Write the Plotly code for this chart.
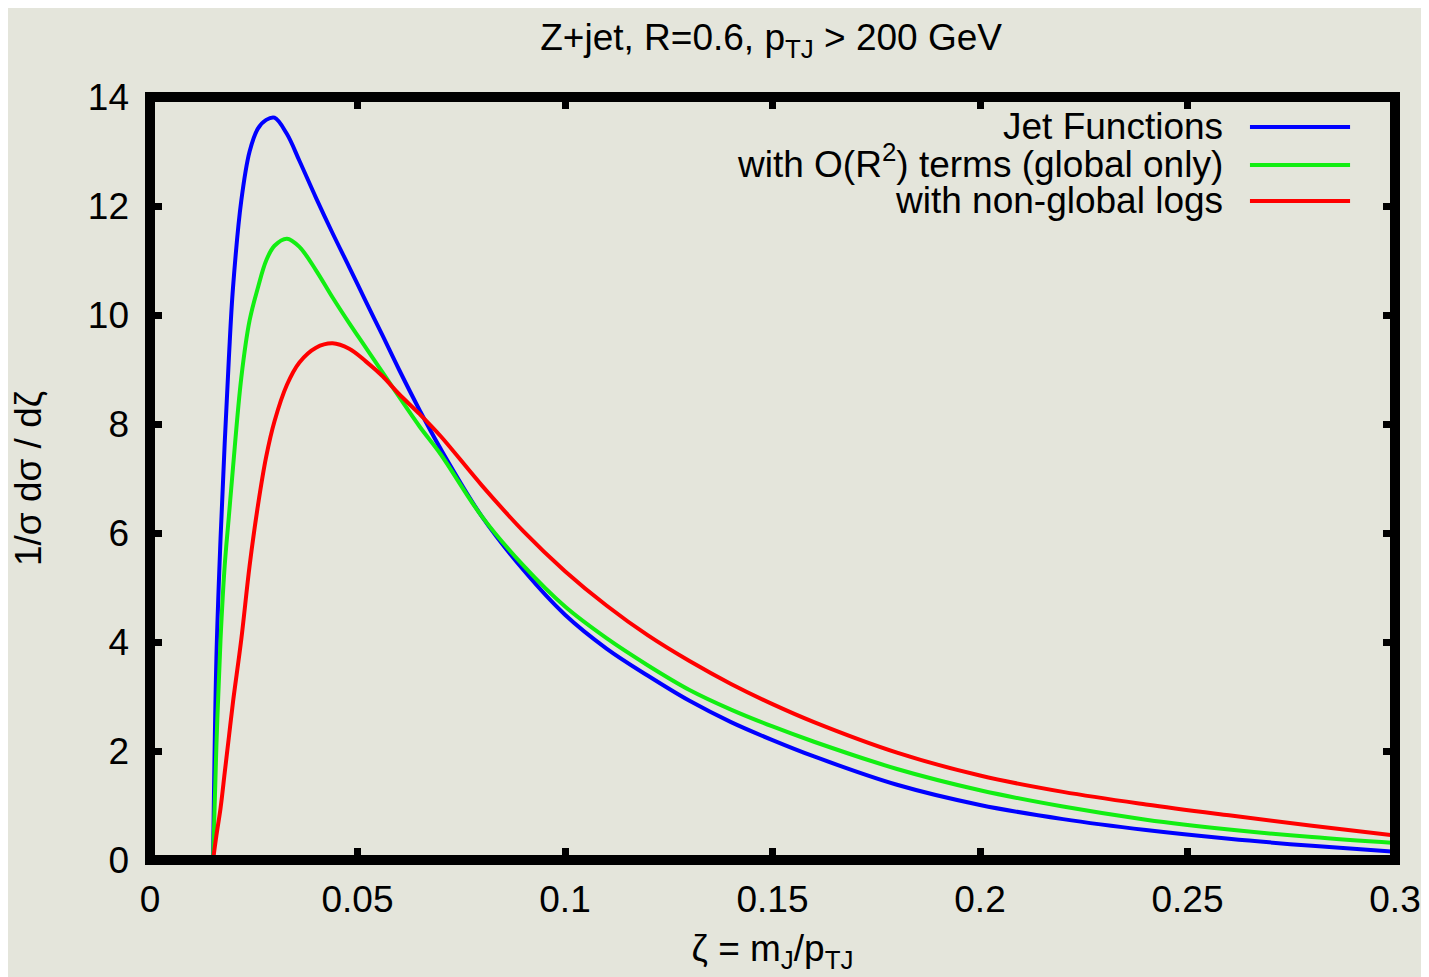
import plotly.graph_objects as go

# ---- data ----
zeta = [0.0152, 0.016, 0.017, 0.018, 0.019, 0.020, 0.022, 0.024, 0.026, 0.028,
        0.030, 0.033, 0.036, 0.040, 0.044, 0.048, 0.052, 0.056, 0.060, 0.065,
        0.070, 0.080, 0.090, 0.100, 0.110, 0.120, 0.130, 0.140, 0.150, 0.160,
        0.180, 0.200, 0.220, 0.240, 0.260, 0.280, 0.300]

jet_functions = [0, 3.7, 5.9, 7.65, 9.2, 10.5, 12.1, 13.0, 13.42, 13.58,
                 13.62, 13.32, 12.83, 12.15, 11.5, 10.88, 10.25, 9.63, 9.0, 8.25,
                 7.55, 6.3, 5.32, 4.5, 3.88, 3.38, 2.92, 2.53, 2.2, 1.9,
                 1.38, 1.01, 0.75, 0.55, 0.39, 0.26, 0.15]

global_only = [0, 2.1, 4.05, 5.4, 6.3, 7.2, 8.85, 9.9, 10.5, 11.0,
               11.27, 11.4, 11.25, 10.82, 10.32, 9.85, 9.4, 8.95, 8.5, 7.95,
               7.45, 6.3, 5.4, 4.65, 4.07, 3.57, 3.12, 2.76, 2.45, 2.17,
               1.67, 1.28, 0.98, 0.74, 0.56, 0.42, 0.31]

non_global = [0, 0.45, 0.95, 1.6, 2.25, 2.9, 4.05, 5.4, 6.5, 7.4,
              8.05, 8.72, 9.13, 9.4, 9.48, 9.38, 9.15, 8.88, 8.55, 8.18,
              7.78, 6.87, 6.03, 5.3, 4.67, 4.12, 3.65, 3.23, 2.86, 2.53,
              1.97, 1.55, 1.25, 1.02, 0.82, 0.63, 0.45]

series_names = ["Jet Functions", "with O(R<sup>2</sup>) terms (global only)",
                "with non-global logs"]
series_colors = ["#0000ff", "#12ee12", "#ff0000"]

x_ticks = [0, 0.05, 0.1, 0.15, 0.2, 0.25, 0.3]
x_tick_labels = ["0", "0.05", "0.1", "0.15", "0.2", "0.25", "0.3"]
y_ticks = [0, 2, 4, 6, 8, 10, 12, 14]

FONT = "Liberation Sans, Arial, Helvetica, sans-serif"
FS = 37
BG = "#e4e5db"

fig = go.Figure()
for ys, name, col in zip([jet_functions, global_only, non_global], series_names, series_colors):
    fig.add_trace(go.Scatter(x=zeta, y=ys, mode="lines", name=name, showlegend=False,
                             line=dict(color=col, width=4, shape="spline", smoothing=1.0)))

# legend drawn gnuplot-style: right-aligned text, sample line to the right
leg_y = [0.9607, 0.9109, 0.8637]
leg_text_y = [0.9607, 0.9150, 0.8637]
for name, col, ly, ty in zip(series_names, series_colors, leg_y, leg_text_y):
    fig.add_annotation(xref="paper", yref="paper", x=0.8635, y=ty, text=name,
                       showarrow=False, xanchor="right", yanchor="middle",
                       font=dict(family=FONT, size=FS, color="black"))
    fig.add_shape(type="line", xref="paper", yref="paper", x0=0.8835, x1=0.9639,
                  y0=ly, y1=ly, line=dict(color=col, width=4))

# thick frame centred on plot edges
fig.add_shape(type="rect", xref="paper", yref="paper", x0=0, x1=1, y0=0, y1=1,
              line=dict(color="black", width=10), layer="above")

axis_common = dict(ticks="inside", ticklen=12, tickwidth=7, tickcolor="black",
                   mirror="ticks", showgrid=False, zeroline=False, showline=False,
                   automargin=False,
                   tickfont=dict(family=FONT, size=FS, color="black"))

fig.update_layout(
    width=1429, height=977,
    margin=dict(l=142, r=42, t=89, b=125),
    paper_bgcolor=BG, plot_bgcolor=BG,
    title=dict(text="Z+jet, R=0.6, p<sub>TJ</sub> > 200 GeV", x=0.534, xanchor="center",
               y=0.970, yanchor="middle", font=dict(family=FONT, size=FS, color="black")),
    xaxis=dict(range=[0, 0.3], tickvals=x_ticks, ticktext=x_tick_labels,
               title=dict(text="ζ = m<sub>J</sub>/p<sub>TJ</sub>", standoff=16,
                          font=dict(family=FONT, size=FS, color="black")),
               ticklabelstandoff=14, **axis_common),
    yaxis=dict(range=[0, 14], tickvals=y_ticks,
               title=dict(text="1/σ dσ / dζ", standoff=52,
                          font=dict(family=FONT, size=FS, color="black")),
               ticklabelstandoff=20, **axis_common),
    showlegend=False,
)

fig.write_html("out.html")
